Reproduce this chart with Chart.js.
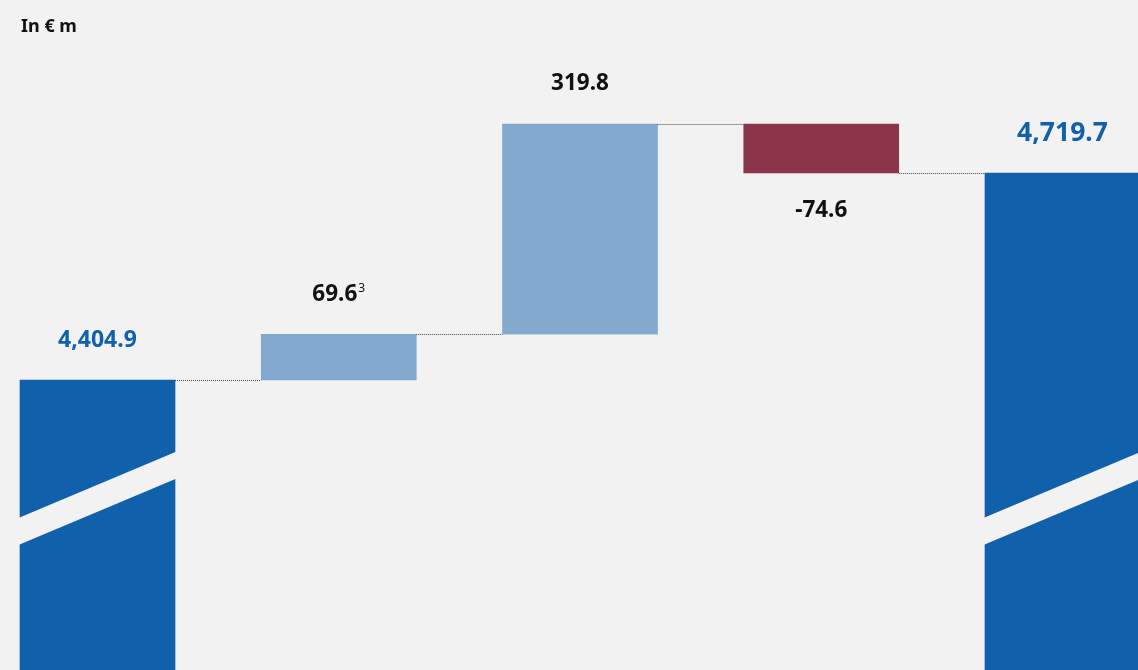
<!DOCTYPE html>
<html>
<head>
<meta charset="utf-8">
<script src="https://cdn.jsdelivr.net/npm/chart.js@4.4.1/dist/chart.umd.min.js"></script>
<style>
  html, body { margin: 0; padding: 0; background: #f2f2f2; }
  #wrap { width: 1138px; height: 670px; position: relative; }
</style>
</head>
<body>
<div id="wrap"><canvas id="bridge"></canvas></div>
<script>
const unitLabel = 'In € m';
const categories = ['Opening', 'Step 1', 'Step 2', 'Step 3', 'Closing'];
const startValue = 4404.9;
const changes = [69.6, 319.8, -74.6];
const endValue = 4719.7;
const footnotes = ['', '3', '', '', ''];
const barColors = ['#1160ab', '#83a9ce', '#83a9ce', '#8c344a', '#1160ab'];
const labelColors = ['#1160ab', '#111111', '#111111', '#111111', '#1160ab'];
const labelSizes = [23, 22.5, 22.5, 22.5, 26.5];
const axisRange = [3963.8, 4982.9];
const axisBreakAt = 4225;

// floating bars: [base, top]
const floating = [[axisRange[0], startValue]];
let running = startValue;
changes.forEach((c) => {
  floating.push([running, running + c]);
  running += c;
});
floating.push([axisRange[0], endValue]);
const shownValues = [startValue, ...changes, endValue];

const fmt = (v) => v.toLocaleString('en-US', { minimumFractionDigits: 1, maximumFractionDigits: 1 });

const bridgeDecor = {
  id: 'bridgeDecor',
  afterDatasetsDraw(chart) {
    const { ctx, scales } = chart;
    const bars = chart.getDatasetMeta(0).data;
    ctx.save();

    // axis break stripes on the first and last bar
    const yc = scales.y.getPixelForValue(axisBreakAt);
    [0, bars.length - 1].forEach((i) => {
      const b = bars[i];
      const l = b.x - b.width / 2 - 1;
      const r = b.x + b.width / 2 + 1;
      const rise = 65 * (r - l) / 155;
      ctx.fillStyle = '#f2f2f2';
      ctx.beginPath();
      ctx.moveTo(l, yc + rise / 2 - 13.5);
      ctx.lineTo(r, yc - rise / 2 - 13.5);
      ctx.lineTo(r, yc - rise / 2 + 13.5);
      ctx.lineTo(l, yc + rise / 2 + 13.5);
      ctx.closePath();
      ctx.fill();
    });

    // dotted connectors
    ctx.strokeStyle = '#444';
    ctx.lineWidth = 1;
    ctx.setLineDash([1, 1]);
    for (let i = 0; i < bars.length - 1; i++) {
      const lvl = Math.round(scales.y.getPixelForValue(floating[i][1])) + 0.5;
      ctx.beginPath();
      ctx.moveTo(bars[i].x + bars[i].width / 2, lvl);
      ctx.lineTo(bars[i + 1].x - bars[i + 1].width / 2, lvl);
      ctx.stroke();
    }
    ctx.setLineDash([]);

    // value labels
    ctx.textBaseline = 'middle';
    bars.forEach((b, i) => {
      const v = shownValues[i];
      const size = labelSizes[i];
      const mainFont = `bold ${size}px "Noto Sans", sans-serif`;
      const supFont = '12px "Noto Sans", sans-serif';
      const top = Math.min(b.y, b.base);
      const bottom = Math.max(b.y, b.base);
      const y = v < 0 ? bottom + 38 : top - 40;
      const txt = fmt(v);
      ctx.font = mainFont;
      const w = ctx.measureText(txt).width;
      let sw = 0;
      if (footnotes[i]) {
        ctx.font = supFont;
        sw = ctx.measureText(footnotes[i]).width + 1;
      }
      const x0 = b.x - (w + sw) / 2;
      ctx.fillStyle = labelColors[i];
      ctx.textAlign = 'left';
      ctx.font = mainFont;
      ctx.fillText(txt, x0, y);
      if (footnotes[i]) {
        ctx.font = supFont;
        ctx.fillText(footnotes[i], x0 + w + 1, y - 6);
      }
    });

    // unit label
    ctx.fillStyle = '#111';
    ctx.font = 'bold 18px "Noto Sans", sans-serif';
    ctx.textAlign = 'left';
    ctx.fillText(unitLabel, 21, 27);
    ctx.restore();
  }
};

new Chart(document.getElementById('bridge'), {
  type: 'bar',
  data: {
    labels: categories,
    datasets: [{
      data: floating,
      backgroundColor: barColors,
      borderWidth: 0,
      barThickness: 155,
      clip: false
    }]
  },
  options: {
    responsive: true,
    maintainAspectRatio: false,
    animation: false,
    layout: { padding: { left: 97.5, right: 75.5, top: 0, bottom: 0 } },
    plugins: { legend: { display: false }, tooltip: { enabled: false } },
    scales: {
      x: { display: false, offset: false, grid: { display: false } },
      y: { display: false, min: axisRange[0], max: axisRange[1] }
    }
  },
  plugins: [bridgeDecor]
});
</script>
</body>
</html>
